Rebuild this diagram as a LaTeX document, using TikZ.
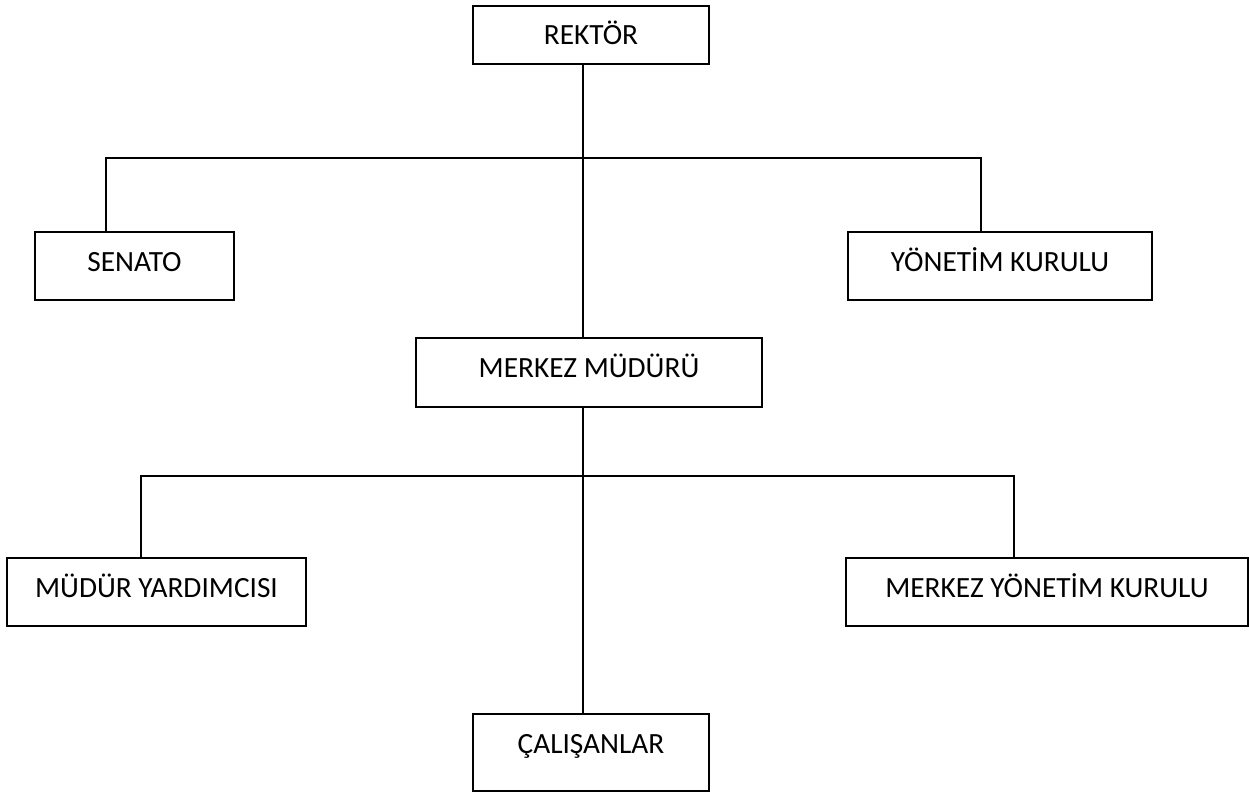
\documentclass[tikz,border=0pt]{standalone}
\usepackage{fontspec}
\setmainfont{Carlito}
\begin{document}
\begin{tikzpicture}[x=0.75pt,y=-0.75pt,
  box/.style n args={2}{draw, line width=1.5pt, anchor=north west, inner xsep=0pt, inner ysep=0pt,
    minimum width=#1*0.75pt, minimum height=0pt, text height=29.25pt, text depth=#2*0.75pt-29.25pt,
    font=\fontsize{22pt}{26pt}\selectfont},
  conn/.style={line width=1.5pt}]
\useasboundingbox (0,0) rectangle (1249,792);
\node[box={236}{58}] (rek) at (472,5) {REKTÖR};
\node[box={199}{68}] (sen) at (34,231) {SENATO};
\node[box={304}{68}] (yk) at (847,231) {YÖNETİM KURULU};
\node[box={346}{69}] (mm) at (415,337) {MERKEZ MÜDÜRÜ};
\node[box={299}{68}] (my) at (6,557) {MÜDÜR YARDIMCISI};
\node[box={402}{68}] (myk) at (845,557) {MERKEZ YÖNETİM KURULU};
\node[box={236}{77}] (cal) at (472,713) {ÇALIŞANLAR};
\coordinate (a1) at (583,157.5);
\coordinate (a2) at (106,157.5);
\coordinate (a3) at (981,157.5);
\coordinate (b1) at (583,476);
\coordinate (b2) at (141,476);
\coordinate (b3) at (1014,476);
\draw[conn] (rek.south -| a1) -- (mm.north -| a1);
\draw[conn] (sen.north -| a2) -- (a2) -- (a3) -- (yk.north -| a3);
\draw[conn] (mm.south -| b1) -- (cal.north -| b1);
\draw[conn] (my.north -| b2) -- (b2) -- (b3) -- (myk.north -| b3);
\end{tikzpicture}
\end{document}
